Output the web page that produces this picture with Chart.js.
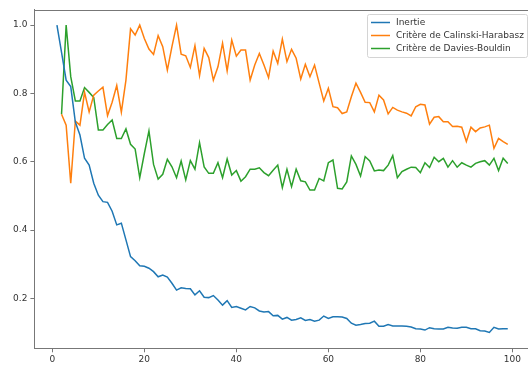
<!DOCTYPE html>
<html>
<head>
<meta charset="utf-8">
<script src="https://cdn.jsdelivr.net/npm/chart.js@4"></script>
<style>
    body { margin: 0; background: #fff; }
    #chart-wrap { width: 528px; height: 365px; }
</style>
</head>
<body>
<div id="chart-wrap"><canvas id="scores-chart" width="528" height="365"></canvas></div>
<script>
// number of clusters k (x axis)
const clusterCounts = Array.from({ length: 99 }, (_, i) => i + 1);

const seriesLabels = ['Inertie', 'Critère de Calinski-Harabasz', 'Critère de Davies-Bouldin'];
const seriesColors = ['#1f77b4', '#ff7f0e', '#2ca02c'];

// Inertie, k = 1..99
const inertie = [
    1.0, 0.92, 0.839, 0.82, 0.716, 0.678, 0.61, 0.59, 0.537, 0.502,
    0.483, 0.481, 0.455, 0.415, 0.42, 0.371, 0.322, 0.31, 0.295, 0.294,
    0.288, 0.278, 0.263, 0.268, 0.262, 0.244, 0.224, 0.231, 0.229, 0.228,
    0.21, 0.222, 0.203, 0.202, 0.208, 0.195, 0.18, 0.193, 0.173, 0.176,
    0.171, 0.166, 0.176, 0.172, 0.163, 0.16, 0.161, 0.149, 0.15, 0.139,
    0.144, 0.136, 0.138, 0.143, 0.135, 0.138, 0.133, 0.136, 0.148, 0.141,
    0.146, 0.146, 0.145, 0.141, 0.127, 0.121, 0.123, 0.126, 0.127, 0.133,
    0.118, 0.118, 0.123, 0.119, 0.119, 0.119, 0.118, 0.116, 0.111, 0.11,
    0.107, 0.114, 0.111, 0.11, 0.11, 0.115, 0.113, 0.112, 0.115, 0.115,
    0.111, 0.111, 0.105, 0.104, 0.1, 0.115, 0.11, 0.111, 0.111
];

// Calinski-Harabasz, k = 2..99
const calinski = [
    0.739, 0.707, 0.537, 0.719, 0.707, 0.803, 0.746, 0.795, 0.807,
    0.818, 0.735, 0.774, 0.823, 0.745, 0.839, 0.989, 0.971, 1.0, 0.961,
    0.93, 0.914, 0.969, 0.937, 0.868, 0.937, 1.0, 0.915, 0.91, 0.876,
    0.94, 0.852, 0.932, 0.905, 0.839, 0.878, 0.947, 0.866, 0.956, 0.909,
    0.927, 0.927, 0.839, 0.883, 0.917, 0.883, 0.846, 0.924, 0.888, 0.959,
    0.893, 0.929, 0.903, 0.842, 0.885, 0.849, 0.883, 0.83, 0.778, 0.815,
    0.761, 0.758, 0.741, 0.746, 0.79, 0.83, 0.803, 0.774, 0.773, 0.746,
    0.795, 0.781, 0.74, 0.759, 0.751, 0.746, 0.742, 0.734, 0.761, 0.768,
    0.766, 0.71, 0.73, 0.732, 0.717, 0.717, 0.703, 0.704, 0.701, 0.659,
    0.701, 0.688, 0.699, 0.702, 0.707, 0.639, 0.668, 0.659, 0.651
];

// Davies-Bouldin, k = 2..99
const daviesBouldin = [
    0.739, 1.0, 0.849, 0.778, 0.778, 0.817, 0.803, 0.788, 0.693,
    0.693, 0.709, 0.722, 0.668, 0.668, 0.696, 0.651, 0.637, 0.553, 0.624,
    0.69, 0.592, 0.549, 0.563, 0.607, 0.585, 0.553, 0.602, 0.547, 0.603,
    0.578, 0.656, 0.585, 0.566, 0.566, 0.597, 0.553, 0.608, 0.561, 0.574,
    0.543, 0.556, 0.578, 0.578, 0.582, 0.568, 0.559, 0.575, 0.59, 0.524,
    0.578, 0.527, 0.578, 0.544, 0.541, 0.517, 0.517, 0.551, 0.544, 0.597,
    0.605, 0.522, 0.52, 0.541, 0.617, 0.592, 0.558, 0.615, 0.602, 0.573,
    0.576, 0.574, 0.59, 0.618, 0.553, 0.571, 0.578, 0.584, 0.583, 0.568,
    0.597, 0.583, 0.613, 0.6, 0.61, 0.584, 0.603, 0.584, 0.597, 0.59,
    0.584, 0.595, 0.6, 0.603, 0.59, 0.61, 0.574, 0.61, 0.595
];

const xTicks = [0, 20, 40, 60, 80, 100];
const yTicks = [0.2, 0.4, 0.6, 0.8, 1.0];

const FONT = { family: 'DejaVu Sans', size: 9 };
const TEXT_COLOR = '#333';
const SPINE_COLOR = '#777';

function toPoints(values, firstK) {
    return values.map((v, i) => ({ x: clusterCounts[firstK - 1 + i], y: v }));
}

// legend drawn inside the plot, upper right, matplotlib style
const innerLegend = {
    id: 'innerLegend',
    afterDraw(chart) {
        const ctx = chart.ctx;
        const x = 367, y = 14, w = 160, h = 43;
        ctx.save();
        ctx.fillStyle = 'rgba(255,255,255,0.85)';
        ctx.strokeStyle = '#d4d4d4';
        ctx.lineWidth = 1;
        ctx.beginPath();
        ctx.roundRect(x + 0.5, y + 0.5, w, h, 2);
        ctx.fill();
        ctx.stroke();

        ctx.font = `${FONT.size}px ${FONT.family}`;
        ctx.textBaseline = 'middle';
        chart.data.datasets.forEach((ds, i) => {
            const rowY = y + 8.5 + i * 13;
            ctx.strokeStyle = ds.borderColor;
            ctx.lineWidth = 1.5;
            ctx.beginPath();
            ctx.moveTo(x + 4, rowY);
            ctx.lineTo(x + 23, rowY);
            ctx.stroke();
            ctx.fillStyle = TEXT_COLOR;
            ctx.fillText(ds.label, x + 29, rowY + 0.5);
        });

        // top spine
        const area = chart.chartArea;
        ctx.strokeStyle = SPINE_COLOR;
        ctx.lineWidth = 1;
        ctx.beginPath();
        ctx.moveTo(area.left, Math.round(area.top) + 0.5);
        ctx.lineTo(area.right, Math.round(area.top) + 0.5);
        ctx.stroke();
        ctx.restore();
    }
};

function renderScoresChart() {
    const ctx = document.getElementById('scores-chart').getContext('2d');
    const allSeries = [
        toPoints(inertie, 1),
        toPoints(calinski, 2),
        toPoints(daviesBouldin, 2)
    ];

    new Chart(ctx, {
        type: 'line',
        data: {
            datasets: allSeries.map((points, i) => ({
                label: seriesLabels[i],
                data: points,
                borderColor: seriesColors[i],
                backgroundColor: seriesColors[i],
                borderWidth: 1.5,
                pointRadius: 0,
                tension: 0,
                fill: false
            }))
        },
        options: {
            responsive: false,
            animation: false,
            layout: { padding: { top: 9.5, right: 0, left: 0, bottom: 0 } },
            scales: {
                x: {
                    type: 'linear',
                    min: -3.9,
                    max: 103.4,
                    afterBuildTicks: scale => { scale.ticks = xTicks.map(v => ({ value: v })); },
                    afterFit: scale => { scale.height = 16.7; },
                    grid: { display: true, drawOnChartArea: false, drawTicks: true, tickLength: 4, color: SPINE_COLOR },
                    border: { color: SPINE_COLOR, width: 1 },
                    ticks: { font: FONT, color: TEXT_COLOR, padding: 2, maxRotation: 0 }
                },
                y: {
                    min: 0.0536,
                    max: 1.0457,
                    afterBuildTicks: scale => { scale.ticks = yTicks.map(v => ({ value: v })); },
                    afterFit: scale => { scale.width = 34.4; },
                    grid: { display: true, drawOnChartArea: false, drawTicks: true, tickLength: 4, color: SPINE_COLOR },
                    border: { color: SPINE_COLOR, width: 1 },
                    ticks: {
                        font: FONT,
                        color: TEXT_COLOR,
                        padding: 3,
                        callback: v => v.toFixed(1)
                    }
                }
            },
            plugins: {
                legend: { display: false },
                tooltip: { enabled: false }
            }
        },
        plugins: [innerLegend]
    });
}

document.addEventListener('DOMContentLoaded', () => {
    renderScoresChart();
});
</script>
</body>
</html>
